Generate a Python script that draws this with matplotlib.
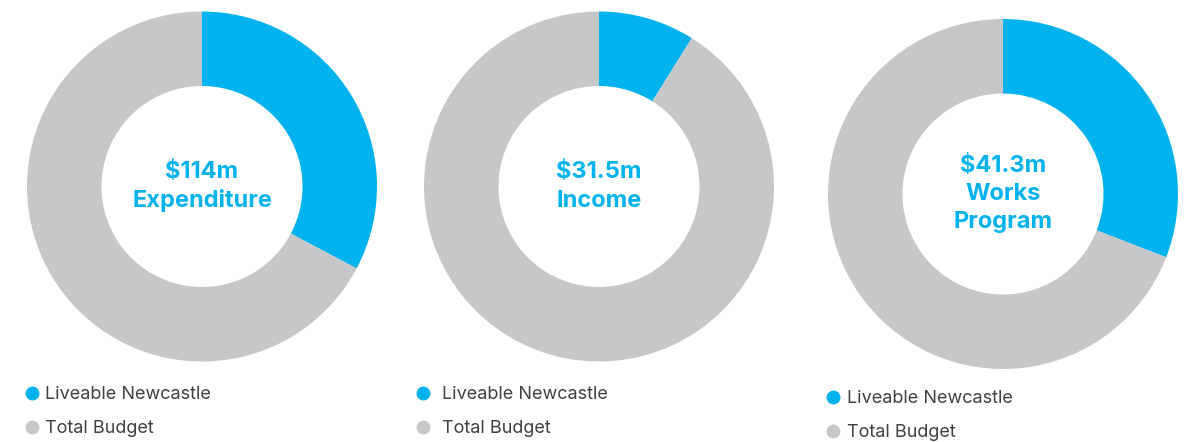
import matplotlib
matplotlib.use("Agg")
import matplotlib.pyplot as plt
from matplotlib.lines import Line2D

# Data
titles = ["$114m\nExpenditure", "$31.5m\nIncome", "$41.3m\nWorks\nProgram"]
liveable = [114.0, 31.5, 41.3]
remainder = [234.0, 322.5, 92.4]
labels = ["Liveable Newcastle", "Total Budget"]

blue = "#00B2ED"
grey = "#C6C7C9"
text_grey = "#404040"

W, H = 1192, 442
fig = plt.figure(figsize=(W / 100, H / 100), dpi=100)
fig.patch.set_facecolor("white")

# pixel geometry (top-origin) for each donut: centre x, centre y, radius
centres = [(202, 186.5), (599, 186.5), (1003, 194)]
R = 175
legend_pos = [(25, 386), (416, 386), (826, 390)]
text_pads = [0.35, 0.68, 0.4]

plt.rcParams['font.family'] = ['Inter', 'DejaVu Sans']

for i in range(3):
    cx, cy = centres[i]
    ax = fig.add_axes([(cx - R) / W, (H - cy - R) / H, 2 * R / W, 2 * R / H])
    wedges, _ = ax.pie([liveable[i], remainder[i]], colors=[blue, grey],
                       startangle=90, counterclock=False, radius=1.0,
                       wedgeprops=dict(width=1.0 - 100.5 / 175, linewidth=0))
    ax.set_xlim(-1, 1)
    ax.set_ylim(-1, 1)
    ax.set_aspect('equal')
    ax.axis('off')
    ax.text(0, 0, titles[i], ha='center', va='center', color=blue,
            fontsize=17, fontweight='bold', linespacing=1.36)
    handles = [Line2D([], [], marker='o', linestyle='none', markersize=10,
                      markerfacecolor=w.get_facecolor(), markeredgewidth=0)
               for w in wedges]
    lx, ly = legend_pos[i]
    fig.legend(handles, labels, loc='upper left',
               bbox_to_anchor=(lx / W, 1 - ly / H), frameon=False,
               fontsize=13, labelcolor=text_grey, handlelength=0.75,
               handletextpad=text_pads[i], borderpad=0, borderaxespad=0,
               labelspacing=0.94)

fig.savefig("out.png", dpi=100, facecolor="white")
